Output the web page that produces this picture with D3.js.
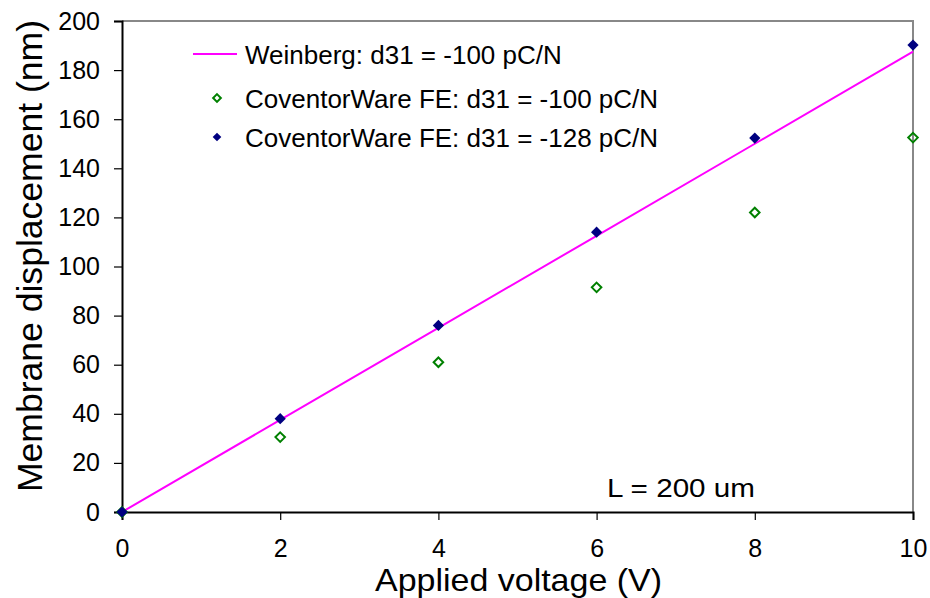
<!DOCTYPE html>
<html>
<head>
<meta charset="utf-8">
<script src="https://cdn.jsdelivr.net/npm/d3@7"></script>
<style>
  body { margin: 0; background: #fff; }
  text { font-family: "Liberation Sans", Arial, sans-serif; }
</style>
</head>
<body>
<div id="chart"></div>
<script>
(function(){
  // data
  const voltage = [0, 2, 4, 6, 8, 10];
  const weinberg = [0, 37.5, 75, 112.5, 150, 187.5];
  const fe100 = [0, 30.5, 61, 91.5, 122, 152.5];
  const fe128 = [0, 38, 76, 114, 152.3, 190.2];
  const xTicks = [0, 2, 4, 6, 8, 10];
  const yTicks = [0, 20, 40, 60, 80, 100, 120, 140, 160, 180, 200];
  const legendText = ['Weinberg: d31 = -100 pC/N', 'CoventorWare FE: d31 = -100 pC/N', 'CoventorWare FE: d31 = -128 pC/N'];

  const width = 930;
  const height = 598;
  const margin = { left: 122, right: 17, top: 21, bottom: 86 };

  const svg = d3.select('#chart')
    .append('svg')
    .attr('width', width)
    .attr('height', height);

  const x = d3.scaleLinear().domain([0, 10]).range([margin.left, width - margin.right]);
  const y = d3.scaleLinear().domain([0, 200]).range([height - margin.bottom, margin.top]);

  // top / right frame (grey)
  svg.append('path')
    .attr('d', 'M' + x(0) + ',' + y(200) + 'H' + x(10) + 'V' + y(0))
    .attr('fill', 'none')
    .attr('stroke', '#888')
    .attr('stroke-width', 2);

  const xAxis = svg.append('g')
    .attr('transform', 'translate(0,' + y(0) + ')')
    .call(d3.axisBottom(x).tickValues(xTicks).tickSize(8).tickPadding(19).tickFormat(d3.format('d')));
  const yAxis = svg.append('g')
    .attr('transform', 'translate(' + x(0) + ',0)')
    .call(d3.axisLeft(y).tickValues(yTicks).tickSize(8).tickPadding(14).tickFormat(d3.format('d')));

  [xAxis, yAxis].forEach(function(a) {
    a.select('.domain').attr('stroke', '#000').attr('stroke-width', 2);
    a.selectAll('.tick line').attr('stroke', '#000').attr('stroke-width', 1.2);
    a.selectAll('.tick text')
      .attr('fill', '#000')
      .style('font-size', '25px')
      .style('font-family', '"Liberation Sans", Arial, sans-serif');
  });

  // Weinberg line
  const line = d3.line()
    .x(function(d, i) { return x(voltage[i]); })
    .y(function(d) { return y(d); });
  svg.append('path')
    .datum(weinberg)
    .attr('d', line)
    .attr('fill', 'none')
    .attr('stroke', '#ff00ff')
    .attr('stroke-width', 2);

  const diamond = d3.symbol().type(d3.symbolDiamond2);

  // open green diamonds
  svg.selectAll('.fe100')
    .data(fe100)
    .enter().append('path')
    .attr('class', 'fe100')
    .attr('d', diamond.size(58)())
    .attr('transform', function(d, i) { return 'translate(' + x(voltage[i]) + ',' + y(d) + ')'; })
    .attr('fill', 'none')
    .attr('stroke', '#008000')
    .attr('stroke-width', 2);

  // filled navy diamonds
  svg.selectAll('.fe128')
    .data(fe128)
    .enter().append('path')
    .attr('class', 'fe128')
    .attr('d', diamond.size(80)())
    .attr('transform', function(d, i) { return 'translate(' + x(voltage[i]) + ',' + y(d) + ')'; })
    .attr('fill', '#000080');

  // legend
  const legend = svg.append('g');
  legend.append('line')
    .attr('x1', 193).attr('x2', 237)
    .attr('y1', 54).attr('y2', 54)
    .attr('stroke', '#ff00ff').attr('stroke-width', 2);
  legend.append('path')
    .attr('d', diamond.size(38)())
    .attr('transform', 'translate(217,98)')
    .attr('fill', 'none').attr('stroke', '#008000').attr('stroke-width', 2);
  legend.append('path')
    .attr('d', diamond.size(48)())
    .attr('transform', 'translate(217,137)')
    .attr('fill', '#000080');
  legend.selectAll('.lt')
    .data(legendText)
    .enter().append('text')
    .attr('class', 'lt')
    .attr('x', 245)
    .attr('y', function(d, i) { return [64, 108, 147][i]; })
    .style('font-size', '26px')
    .text(function(d) { return d; });

  svg.append('text')
    .attr('x', 607).attr('y', 497)
    .attr('textLength', 148)
    .attr('lengthAdjust', 'spacingAndGlyphs')
    .style('font-size', '26px')
    .text('L = 200 um');

  // axis titles
  svg.append('text')
    .attr('x', 375).attr('y', 591)
    .attr('textLength', 287)
    .attr('lengthAdjust', 'spacingAndGlyphs')
    .style('font-size', '32px')
    .text('Applied voltage (V)');
  svg.append('text')
    .attr('transform', 'translate(42,492) rotate(-90)')
    .attr('textLength', 472)
    .attr('lengthAdjust', 'spacingAndGlyphs')
    .style('font-size', '35px')
    .text('Membrane displacement (nm)');
})();
</script>
</body>
</html>
